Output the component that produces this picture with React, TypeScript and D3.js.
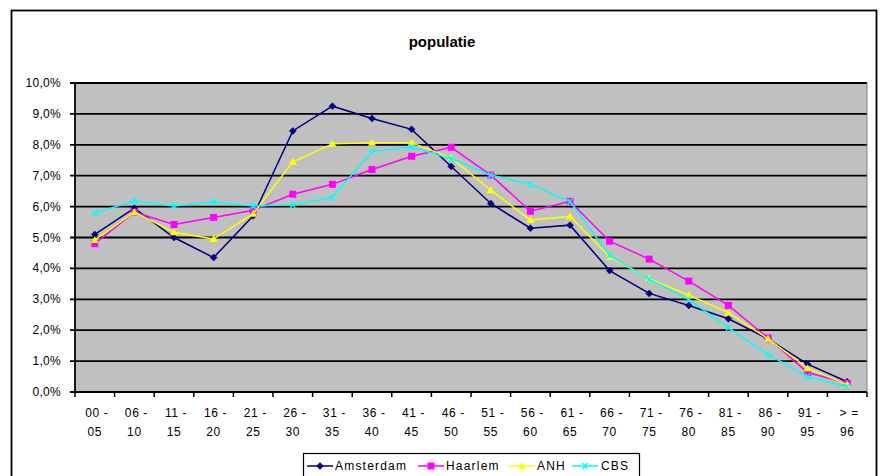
import React from 'react'
import * as d3 from 'd3'

// age groups, two-line labels
const categories = [
  '00 - 05', '06 - 10', '11 - 15', '16 - 20', '21 - 25', '26 - 30', '31 - 35',
  '36 - 40', '41 - 45', '46 - 50', '51 - 55', '56 - 60', '61 - 65', '66 - 70',
  '71 - 75', '76 - 80', '81 - 85', '86 - 90', '91 - 95', '> = 96',
]
const labelTop = ['00 -', '06 -', '11 -', '16 -', '21 -', '26 -', '31 -', '36 -', '41 -', '46 -',
  '51 -', '56 -', '61 -', '66 -', '71 -', '76 -', '81 -', '86 -', '91 -', '> =']
const labelBottom = ['05', '10', '15', '20', '25', '30', '35', '40', '45', '50',
  '55', '60', '65', '70', '75', '80', '85', '90', '95', '96']

// percentages
const amsterdam = [5.1, 5.95, 5.0, 4.35, 5.7, 8.45, 9.25, 8.85, 8.5, 7.3, 6.1, 5.3, 5.4, 3.93, 3.19, 2.8, 2.37, 1.72, 0.9, 0.33]
const haarlem = [4.8, 5.82, 5.42, 5.65, 5.88, 6.4, 6.72, 7.2, 7.63, 7.92, 7.02, 5.85, 6.17, 4.88, 4.3, 3.59, 2.8, 1.75, 0.63, 0.28]
const anh = [4.92, 5.82, 5.17, 4.95, 5.77, 7.45, 8.03, 8.07, 8.07, 7.57, 6.53, 5.57, 5.68, 4.38, 3.67, 3.13, 2.57, 1.72, 0.77, 0.24]
const cbs = [5.79, 6.18, 6.02, 6.15, 6.02, 6.06, 6.3, 7.78, 7.93, 7.55, 7.02, 6.72, 6.16, 4.42, 3.65, 2.99, 2.08, 1.22, 0.5, 0.17]

const yTicks = [0, 1, 2, 3, 4, 5, 6, 7, 8, 9, 10]

const series = [
  { name: 'Amsterdam', values: amsterdam, color: '#000080', marker: 'diamond' },
  { name: 'Haarlem', values: haarlem, color: '#FF00FF', marker: 'square' },
  { name: 'ANH', values: anh, color: '#FFFF00', marker: 'triangle' },
  { name: 'CBS', values: cbs, color: '#00FFFF', marker: 'cross' },
]

const W = 882
const H = 476
const plot = { left: 75, right: 867, top: 83, bottom: 392 }
const font = '"Liberation Sans", Arial, sans-serif'

function Marker({ type, x, y, color }: { type: string; x: number; y: number; color: string }) {
  if (type === 'diamond') {
    return <path d={`M${x},${y - 3.5}L${x + 3.5},${y}L${x},${y + 3.5}L${x - 3.5},${y}Z`} fill={color} stroke={color} strokeWidth={0.5} />
  }
  if (type === 'square') {
    return <rect x={x - 3.5} y={y - 3.5} width={7} height={7} fill={color} />
  }
  if (type === 'triangle') {
    return <path d={`M${x},${y - 4}L${x + 4},${y + 3}L${x - 4},${y + 3}Z`} fill={color} />
  }
  return (
    <path d={`M${x - 2.5},${y - 3}L${x + 2.5},${y + 3}M${x + 2.5},${y - 3}L${x - 2.5},${y + 3}`} stroke={color} strokeWidth={1.4} />
  )
}

export default function App() {
  const x = d3.scaleBand<string>().domain(categories).range([plot.left, plot.right]).padding(0)
  const y = d3.scaleLinear().domain([0, 10]).range([plot.bottom, plot.top])
  const cx = (c: string) => (x(c) ?? 0) + x.bandwidth() / 2

  const line = d3
    .line<number>()
    .x((_, i) => cx(categories[i]))
    .y(d => y(d))

  // tick marks sit on band edges
  const edges = categories.map(c => x(c) ?? 0).concat([plot.right])

  const legend = [
    { x0: 307, tx: 335 },
    { x0: 418, tx: 446 },
    { x0: 509, tx: 537 },
    { x0: 572, tx: 601 },
  ]

  return (
    <div style={{ position: 'fixed', left: 0, top: 0 }}>
      <svg width={W} height={H} style={{ display: 'block', background: '#fff' }}>
        {/* chart border */}
        <rect x={11.5} y={10.5} width={865} height={480} fill="#fff" stroke="#000" strokeWidth={1.8} />

        <text x={442} y={47} textAnchor="middle" fontFamily={font} fontWeight="bold" fontSize={15}>
          populatie
        </text>

        {/* plot area */}
        <rect x={plot.left} y={plot.top} width={plot.right - plot.left} height={plot.bottom - plot.top} fill="#C0C0C0" />
        {yTicks.map(t => (
          <line key={t} x1={plot.left - 5} x2={plot.right} y1={y(t)} y2={y(t)} stroke="#000" strokeWidth={1.8} />
        ))}
        <line x1={plot.right} x2={plot.right} y1={plot.top} y2={plot.bottom} stroke="#808080" strokeWidth={1} />
        <line x1={plot.left} x2={plot.left} y1={plot.top} y2={plot.bottom + 1} stroke="#000" strokeWidth={1.8} />
        {edges.map((e, i) => (
          <line key={i} x1={e} x2={e} y1={plot.bottom} y2={plot.bottom + 5} stroke="#000" strokeWidth={1.5} />
        ))}

        {yTicks.map(t => (
          <text key={t} x={61} y={y(t) + 4} textAnchor="end" fontFamily={font} fontSize={12} letterSpacing={0.3}>
            {t.toFixed(1).replace('.', ',') + '%'}
          </text>
        ))}

        {categories.map((c, i) => (
          <g key={c} fontFamily={font} fontSize={12} textAnchor="middle" letterSpacing={0.6}>
            <text x={cx(c) + 2} y={417}>{labelTop[i]}</text>
            <text x={cx(c)} y={436}>{labelBottom[i]}</text>
          </g>
        ))}

        {series.map(s => (
          <g key={s.name}>
            <path d={line(s.values) ?? ''} fill="none" stroke={s.color} strokeWidth={1.5} />
            {s.values.map((v, i) => (
              <Marker key={i} type={s.marker} x={cx(categories[i])} y={y(v)} color={s.color} />
            ))}
          </g>
        ))}

        {/* legend */}
        <rect x={303.5} y={453.5} width={336} height={30} fill="#fff" stroke="#000" strokeWidth={1.2} />
        {series.map((s, i) => (
          <g key={s.name}>
            <line x1={legend[i].x0} x2={legend[i].x0 + 26} y1={466} y2={466} stroke={s.color} strokeWidth={1.5} />
            <Marker type={s.marker} x={legend[i].x0 + 13} y={466} color={s.color} />
            <text x={legend[i].tx} y={470} fontFamily={font} fontSize={12} letterSpacing={1.2}>{s.name}</text>
          </g>
        ))}
      </svg>
    </div>
  )
}
